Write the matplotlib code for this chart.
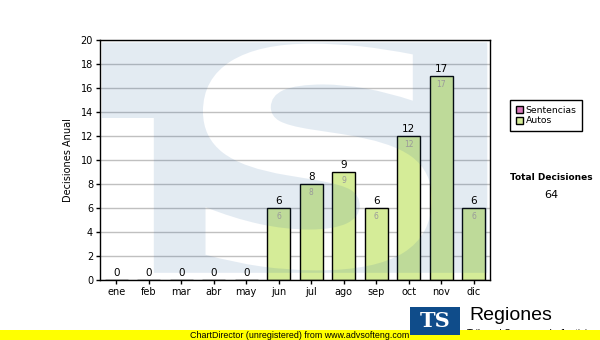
import numpy as np
import matplotlib.pyplot as plt
from matplotlib.patches import Rectangle, PathPatch, Patch
from matplotlib.path import Path
from matplotlib.textpath import TextPath
from matplotlib.font_manager import FontProperties
from matplotlib.transforms import Affine2D

meses = ['ene', 'feb', 'mar', 'abr', 'may', 'jun', 'jul', 'ago', 'sep', 'oct', 'nov', 'dic']
autos = [0, 0, 0, 0, 0, 6, 8, 9, 6, 12, 17, 6]
sentencias = [0, 0, 0, 0, 0, 0, 0, 0, 0, 0, 0, 0]
total = sum(autos) + sum(sentencias)

verde = '#d5ec98'
rosa = '#d878b8'

fig = plt.figure(figsize=(6, 3.4), dpi=100)
ax = fig.add_axes([100/600, 60/340, 390/600, 240/340])

x = np.arange(len(meses))
ax.bar(x, autos, width=0.7, color=verde, edgecolor='black', linewidth=1, zorder=2)
ax.set_xlim(-0.5, 11.5)
ax.set_ylim(0, 20)
ax.set_yticks(range(0, 21, 2))
ax.set_xticks(x)
ax.set_xticklabels(meses)
ax.yaxis.grid(True, color='#c0c0c0', linewidth=1, zorder=1)
ax.set_axisbelow(True)
ax.tick_params(direction='out', length=3, width=1, labelsize=7, pad=2)
for s in ax.spines.values():
    s.set_linewidth(1)
ax.set_ylabel('Decisiones Anual', fontsize=7)
ax.yaxis.set_label_coords((73-100)/390, 0.5)

# watermark "TS" (blue overlay with white S and lower-left cut)
tp = TextPath((0, 0), 'S', size=1, prop=FontProperties(family='DejaVu Sans', weight='bold'))
ext = tp.get_extents()
x0, x1, y0, y1 = 0.264, 0.851, 0.04, 0.985
t = Affine2D().translate(-ext.x0, -ext.y0).scale((x1-x0)/ext.width, (y1-y0)/ext.height).translate(x0, y0)
s_path = t.transform_path(tp)
poly = s_path.to_polygons()[0]
area = 0.5*np.sum(poly[:-1, 0]*poly[1:, 1] - poly[1:, 0]*poly[:-1, 1])
pts = [(0.005, 0.675), (0.138, 0.675), (0.138, 0.03), (0.993, 0.03), (0.993, 0.99), (0.005, 0.99)]
if area > 0:
    pts = pts[::-1]
outer = Path(pts + [pts[0]], [Path.MOVETO] + [Path.LINETO]*5 + [Path.CLOSEPOLY])
wm = Path.make_compound_path(outer, s_path)
ax.add_patch(PathPatch(wm, transform=ax.transAxes, facecolor=(42/255, 102/255, 162/255),
                       alpha=0.13, edgecolor='none', zorder=3))

for i, v in enumerate(autos):
    ax.text(i, v + 0.2, str(v), ha='center', va='bottom', fontsize=7.5, zorder=5)
    if v > 0:
        ax.text(i, v - 0.3, str(v), ha='center', va='top', fontsize=5.5, color='#9a9a9a', zorder=5)

handles = [Patch(facecolor=rosa, edgecolor='black', label='Sentencias'),
           Patch(facecolor=verde, edgecolor='black', label='Autos')]
leg = fig.legend(handles=handles, loc='upper left', bbox_to_anchor=(510/600, 1-100/340),
                 fontsize=6.7, frameon=True, fancybox=False, edgecolor='black', framealpha=1,
                 handlelength=0.8, handleheight=0.8, handletextpad=0.3, borderpad=0.6,
                 labelspacing=0.2, borderaxespad=0)
leg.get_frame().set_linewidth(1)

fig.text(551/600, 1-177/340, 'Total Decisiones', ha='center', va='center', fontsize=6.5, weight='bold')
fig.text(551/600, 1-195/340, str(total), ha='center', va='center', fontsize=8)

# footer
fig.patches.append(Rectangle((0, 0), 1, 10/340, transform=fig.transFigure,
                             facecolor='#ffff00', edgecolor='none', zorder=1))
fig.text(190/600, 5/340, 'ChartDirector (unregistered) from www.advsofteng.com', ha='left', va='center',
         fontsize=6.4, family='Liberation Sans', zorder=2)
fig.text(467/600, 1-334/340, 'Tribunal Supremo de Justicia', ha='left', va='center',
         fontsize=7, family='Liberation Sans', zorder=0.5)
fig.patches.append(Rectangle((410/600, 1-335/340), 50/600, 28/340, transform=fig.transFigure,
                             facecolor='#0f4c8a', edgecolor='none', zorder=2))
fig.text(435/600, 1-321/340, 'TS', ha='center', va='center', fontsize=15, weight='bold',
         color='white', family='DejaVu Serif', zorder=3)
fig.text(469/600, 1-315/340, 'Regiones', ha='left', va='center', fontsize=14,
         family='Liberation Sans', zorder=3)

fig.savefig('out.png', dpi=100)
